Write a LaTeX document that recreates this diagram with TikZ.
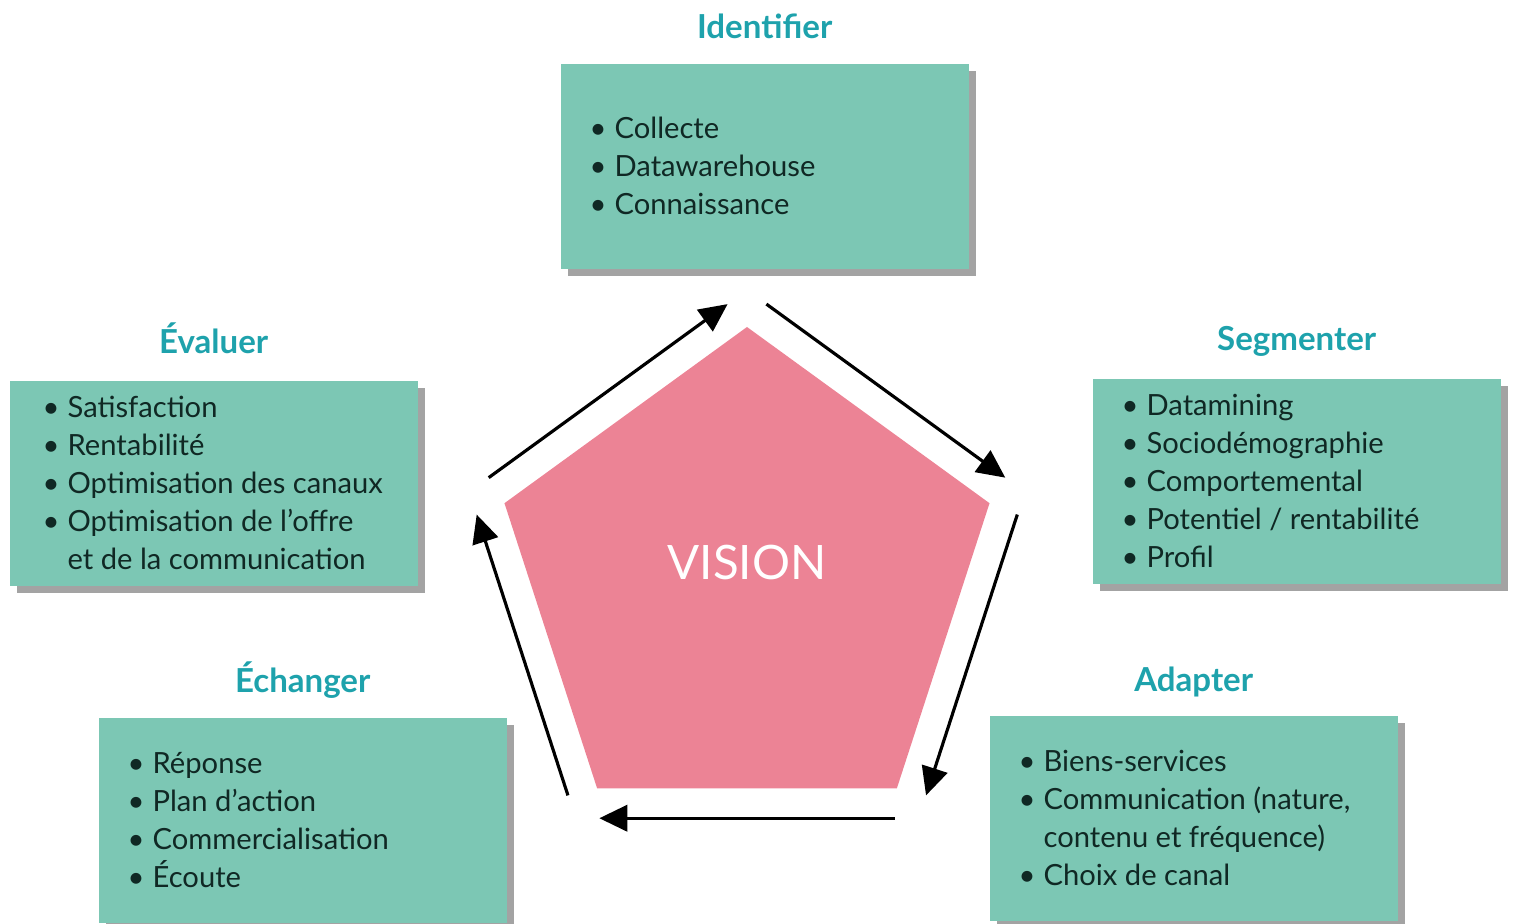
\documentclass[tikz,border=0pt]{standalone}
\usepackage{fontspec}
\setmainfont{Lato}
\usetikzlibrary{shapes.geometric,arrows.meta,positioning,calc,shadows}
\definecolor{boxteal}{RGB}{124,199,180}
\definecolor{titleteal}{RGB}{30,162,172}
\definecolor{visionpink}{RGB}{236,131,149}
\definecolor{textdark}{RGB}{16,40,36}

\newcommand{\itm}{\textbullet\hspace{0.08cm}}
\newcommand{\cont}{\hphantom{\textbullet\hspace{0.08cm}}}

\begin{document}
\begin{tikzpicture}[
    stepbox/.style={draw=none, fill=boxteal, minimum width=4.08cm, minimum height=2.05cm, anchor=north west, drop shadow={shadow xshift=0.07cm, shadow yshift=-0.07cm, fill=black!60, opacity=0.6}},
    steplist/.style={anchor=west, align=left, inner xsep=0.29cm, inner ysep=0pt, text=textdark, font=\fontsize{8.3}{10.8}\selectfont},
    steptitle/.style={anchor=base, text=titleteal, font=\fontsize{9.4}{11}\selectfont\bfseries, inner sep=0pt},
    cyc/.style={-{Triangle[length=8pt,width=7.5pt]}, line width=0.9pt, shorten <=0.24cm, shorten >=0.24cm}
]
\useasboundingbox (0,0) rectangle (15.17,-9.24);

% Central pentagon, plus an invisible larger one guiding the arrows
\node[regular polygon, regular polygon sides=5, minimum size=5.1cm, inner sep=0pt, outer sep=0pt, fill=visionpink] (pent) at (7.47,-5.82) {};
\node[regular polygon, regular polygon sides=5, minimum size=5.84cm, inner sep=0pt, outer sep=0pt] (ring) at (pent.center) {};
\node[text=white, font=\fontsize{13.5}{15}\selectfont] (vision) at ([yshift=0.19cm]pent.center) {VISION};

% The five steps
\node[stepbox, label={[steplist]west:{\itm Collecte\\ \itm Datawarehouse\\ \itm Connaissance}}] (ident) at (5.60,-0.63) {};
\node[stepbox, label={[steplist]west:{\itm Datamining\\ \itm Sociodémographie\\ \itm Comportemental\\ \itm Potentiel / rentabilité\\ \itm Profil}}] (segm) at (10.92,-3.78) {};
\node[stepbox, label={[steplist]west:{\itm Biens-services\\ \itm Communication (nature,\\ \cont contenu et fréquence)\\ \itm Choix de canal}}] (adapt) at (9.89,-7.15) {};
\node[stepbox, label={[steplist]west:{\itm Réponse\\ \itm Plan d’action\\ \itm Commercialisation\\ \itm Écoute}}] (echg) at (0.98,-7.17) {};
\node[stepbox, label={[steplist, inner xsep=0.33cm]west:{\itm Satisfaction\\ \itm Rentabilité\\ \itm Optimisation des canaux\\ \itm Optimisation de l’offre\\ \cont et de la communication}}] (eval) at (0.09,-3.80) {};

% Titles
\node[steptitle] (identT) at ([yshift=0.24cm]ident.north) {Identifier};
\node[steptitle] (segmT) at ([yshift=0.27cm]segm.north) {Segmenter};
\node[steptitle] (adaptT) at ([yshift=0.23cm]adapt.north) {Adapter};
\node[steptitle] (echgT) at ([yshift=0.24cm]echg.north) {Échanger};
\node[steptitle] (evalT) at ([yshift=0.26cm]eval.north) {Évaluer};

% Cycle arrows
\draw[cyc] (ring.corner 2) -- (ring.corner 1);
\draw[cyc] (ring.corner 1) -- (ring.corner 5);
\draw[cyc] (ring.corner 5) -- (ring.corner 4);
\draw[cyc] (ring.corner 4) -- (ring.corner 3);
\draw[cyc] (ring.corner 3) -- (ring.corner 2);

\end{tikzpicture}
\end{document}
